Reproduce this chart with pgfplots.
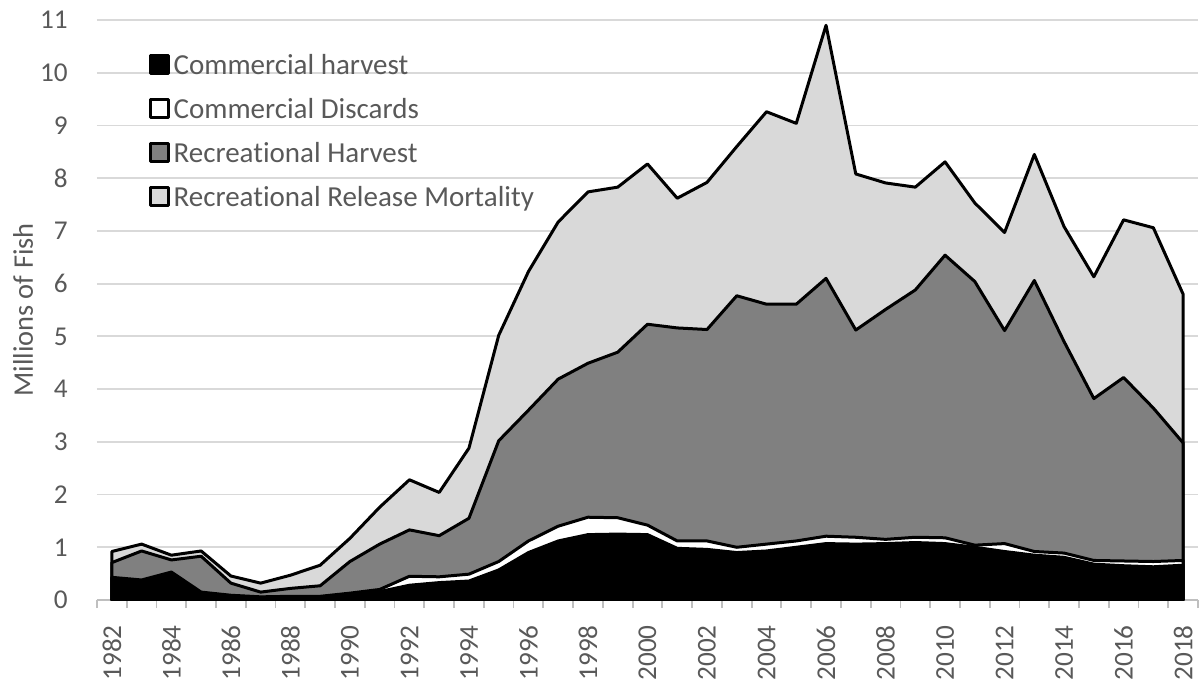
\documentclass[border=0pt]{standalone}
\usepackage{pgfplots}
\pgfplotsset{compat=1.18}
\usepackage{pgfplotstable}
\usepackage{fontspec}
\setmainfont{Carlito}[Ligatures={NoCommon}]
\definecolor{textgray}{HTML}{595959}
\definecolor{gridgray}{HTML}{D9D9D9}
\definecolor{axisgray}{HTML}{BFBFBF}
\definecolor{recdark}{HTML}{808080}
\definecolor{reclight}{HTML}{D9D9D9}

% cumulative tops: C = commercial harvest, W = + commercial discards,
% H = + recreational harvest, T = + recreational release mortality
\pgfplotstableread{
year C W H T
1982 0.41 0.43 0.71 0.92
1983 0.36 0.38 0.93 1.06
1984 0.52 0.53 0.76 0.85
1985 0.13 0.15 0.83 0.93
1986 0.08 0.09 0.32 0.455
1987 0.05 0.06 0.15 0.32
1988 0.05 0.07 0.22 0.47
1989 0.04 0.07 0.27 0.66
1990 0.10 0.13 0.73 1.17
1991 0.16 0.20 1.06 1.76
1992 0.28 0.45 1.33 2.28
1993 0.33 0.44 1.22 2.04
1994 0.36 0.49 1.55 2.88
1995 0.57 0.73 3.02 5.02
1996 0.90 1.12 3.60 6.23
1997 1.12 1.40 4.19 7.17
1998 1.24 1.57 4.49 7.74
1999 1.25 1.56 4.70 7.83
2000 1.24 1.42 5.23 8.27
2001 0.98 1.12 5.16 7.62
2002 0.96 1.12 5.13 7.92
2003 0.90 1.00 5.77 8.60
2004 0.93 1.06 5.61 9.26
2005 1.00 1.12 5.61 9.04
2006 1.07 1.21 6.10 10.90
2007 1.06 1.19 5.12 8.08
2008 1.07 1.15 5.51 7.91
2009 1.09 1.19 5.88 7.83
2010 1.07 1.18 6.54 8.31
2011 1.00 1.04 6.04 7.53
2012 0.92 1.07 5.11 6.97
2013 0.85 0.92 6.06 8.45
2014 0.81 0.89 4.90 7.08
2015 0.68 0.75 3.82 6.13
2016 0.65 0.74 4.22 7.21
2017 0.63 0.73 3.64 7.06
2018 0.66 0.75 2.98 5.80
}\cumdata

\begin{document}
\begin{tikzpicture}
\begin{axis}[
  scale only axis, width=550.5pt, height=290pt,
  xmin=1981.5, xmax=2018.5, ymin=0, ymax=11,
  axis lines*=left,
  x axis line style={draw=axisgray, line width=0.9pt, -},
  y axis line style={draw=none},
  xtick={1982,1984,...,2018},
  minor xtick={1981.5,1982.5,...,2018.5},
  major tick length=0pt,
  minor tick length=4pt,
  tick align=outside,
  minor tick style={draw=axisgray, line width=0.9pt},
  ytick={0,1,...,11},
  ymajorgrids,
  major grid style={draw=gridgray, line width=0.9pt},
  tick label style={font=\fontsize{13.6}{16}\selectfont, text=textgray},
  /pgf/number format/assume math mode=true,
  x tick label style={/pgf/number format/1000 sep={}},
  xticklabel style={rotate=90, anchor=east, inner sep=0pt},
  xticklabel shift=12.5pt,
  yticklabel style={anchor=east, inner sep=0pt},
  yticklabel shift=14.5pt,
  ylabel={Millions of Fish},
  every axis y label/.style={at={(axis description cs:0,0.5)}, xshift=-32pt, anchor=base, rotate=90, font=\fontsize{14.2}{16}\selectfont, text=textgray},
  legend image code/.code={\draw[#1, line width=1.3pt] (0pt,-3.5pt) rectangle (9pt,5.5pt);},
  reverse legend,
  legend cell align=left,
  legend style={at={(axis description cs:0,1)}, anchor=north west, xshift=26pt, yshift=-16.2pt,
    draw=none, fill=none, inner sep=0pt, outer sep=0pt, row sep=8pt, column sep=2pt,
    font=\fontsize{14.5}{17}\selectfont, text=textgray,
    nodes={inner sep=0pt, text height=11pt, text depth=3pt}},
]
\addplot[fill=reclight, draw=black, line width=1.5pt, line join=round] table[x=year, y=T]{\cumdata} \closedcycle;
\addplot[fill=recdark, draw=black, line width=1.5pt, line join=round] table[x=year, y=H]{\cumdata} \closedcycle;
\addplot[fill=white, draw=black, line width=1.5pt, line join=round] table[x=year, y=W]{\cumdata} \closedcycle;
\addplot[fill=black, draw=black, line width=1.5pt, line join=round] table[x=year, y=C]{\cumdata} \closedcycle;
\legend{Recreational Release Mortality, Recreational Harvest, Commercial Discards, Commercial harvest}
\end{axis}
\pgfresetboundingbox
\path[use as bounding box] (-48.5pt,-41pt) rectangle (552pt,300pt);
\end{tikzpicture}
\end{document}
